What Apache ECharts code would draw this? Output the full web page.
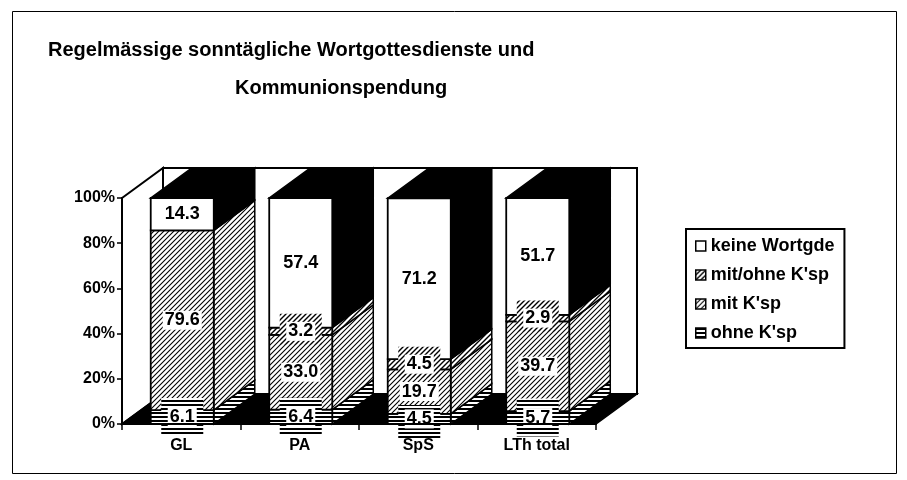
<!DOCTYPE html>
<html>
<head>
<meta charset="utf-8">
<script src="https://cdn.jsdelivr.net/npm/echarts@6/dist/echarts.min.js"></script>
<style>
html, body { margin: 0; padding: 0; background: #fff; }
#chart { width: 907px; height: 480px; }
</style>
</head>
<body>
<div id="chart"></div>
<script>
// Regular Sunday services of the word and communion, share per region (%)
const categories = ['GL', 'PA', 'SpS', 'LTh total'];
const ohneKsp = [6.1, 6.4, 4.5, 5.7];
const mitKsp = [79.6, 33.0, 19.7, 39.7];
const mitOhneKsp = [0, 3.2, 4.5, 2.9];
const keineWortgde = [14.3, 57.4, 71.2, 51.7];
const seriesNames = ["ohne K'sp", "mit K'sp", "mit/ohne K'sp", 'keine Wortgde'];
const legendOrder = ['keine Wortgde', "mit/ohne K'sp", "mit K'sp", "ohne K'sp"];
const titleLines = ['Regelmässige sonntägliche Wortgottesdienste und', 'Kommunionspendung'];

const FONT = "'Liberation Sans', Arial, Helvetica, sans-serif";
const DX = 41, DY = -30;          // oblique depth of the 3D box
const BAR_RATIO = 0.532;
const BAR_SHIFT = 1;

// fill patterns
function hatchCanvas(lineW) {
  const s = 5, c = document.createElement('canvas');
  c.width = s; c.height = s;
  const g = c.getContext('2d');
  g.fillStyle = '#fff'; g.fillRect(0, 0, s, s);
  g.strokeStyle = '#000'; g.lineWidth = lineW;
  g.beginPath();
  g.moveTo(-1, s + 1); g.lineTo(s + 1, -1);
  g.moveTo(-1, 1); g.lineTo(1, -1);
  g.moveTo(s - 1, s + 1); g.lineTo(s + 1, s - 1);
  g.stroke();
  return c;
}
function stripeCanvas() {
  const c = document.createElement('canvas');
  c.width = 4; c.height = 4;
  const g = c.getContext('2d');
  g.fillStyle = '#fff'; g.fillRect(0, 0, 4, 4);
  g.fillStyle = '#000'; g.fillRect(0, 0, 4, 2);
  return c;
}
const stripes = { image: stripeCanvas(), repeat: 'repeat' };
const hatch = { image: hatchCanvas(1.1), repeat: 'repeat' };
const hatch2 = { image: hatchCanvas(1.4), repeat: 'repeat' };

const valuesBySeries = [ohneKsp, mitKsp, mitOhneKsp, keineWortgde];
const frontFills = [stripes, hatch, hatch2, '#fff'];
const sideFills = [stripes, hatch, hatch2, '#000'];
const labelBoxes = [{ w: 42, h: 38, dy: 0 }, { w: 42, h: 31, dy: -2 }, { w: 42, h: 31, dy: -2 }, null];

// stacked bases and which segment carries the top face
function buildData(si) {
  return categories.map((c, ci) => {
    let base = 0;
    for (let k = 0; k < si; k++) base += valuesBySeries[k][ci];
    const v = valuesBySeries[si][ci];
    let topIdx = -1;
    for (let k = 0; k < valuesBySeries.length; k++) if (valuesBySeries[k][ci] > 0) topIdx = k;
    return [ci, base, base + v, v, topIdx === si ? 1 : 0];
  });
}

function makeRender(si) {
  return function (params, api) {
    const cat = api.value(0), base = api.value(1), top = api.value(2), val = api.value(3), isTop = api.value(4);
    if (!(val > 0)) return null;
    const pb = api.coord([cat, base]);
    const pt = api.coord([cat, top]);
    const w = api.size([1, 0])[0] * BAR_RATIO;
    const xl = pb[0] - w / 2 + BAR_SHIFT, xr = xl + w;
    const yb = pb[1], yt = pt[1];
    const children = [];
    children.push({
      type: 'polygon',
      shape: { points: [[xr, yb], [xr + DX, yb + DY], [xr + DX, yt + DY], [xr, yt]] },
      style: { fill: sideFills[si], stroke: '#000', lineWidth: 1.5 }
    });
    if (isTop) {
      children.push({
        type: 'polygon',
        shape: { points: [[xl, yt], [xr, yt], [xr + DX, yt + DY], [xl + DX, yt + DY]] },
        style: { fill: '#000', stroke: '#000', lineWidth: 1.5 }
      });
    }
    children.push({
      type: 'rect',
      shape: { x: xl, y: yt, width: w, height: yb - yt },
      style: { fill: frontFills[si], stroke: '#000', lineWidth: 1.8 }
    });
    const cx = (xl + xr) / 2, cy = (yb + yt) / 2;
    const box = labelBoxes[si];
    if (box) {
      children.push({
        type: 'rect', z2: 50,
        shape: { x: cx - box.w / 2, y: cy + box.dy - box.h / 2, width: box.w, height: box.h },
        style: { fill: frontFills[si] }
      });
    }
    children.push({
      type: 'text', z2: 51, x: cx, y: cy,
      style: {
        text: val.toFixed(1), font: 'bold 18px ' + FONT, fill: '#000',
        align: 'center', verticalAlign: 'middle',
        backgroundColor: '#fff', padding: [1, 2, 0, 2]
      }
    });
    return { type: 'group', children };
  };
}

function renderWalls(params, api) {
  const cs = params.coordSys;
  const x0 = cs.x, y0 = cs.y, x1 = cs.x + cs.width, y1 = cs.y + cs.height;
  return {
    type: 'group',
    children: [
      { type: 'polygon', shape: { points: [[x0, y0], [x0 + DX, y0 + DY], [x0 + DX, y1 + DY], [x0, y1]] },
        style: { fill: '#fff', stroke: '#000', lineWidth: 2 } },
      { type: 'rect', shape: { x: x0 + DX, y: y0 + DY, width: x1 - x0, height: y1 - y0 },
        style: { fill: '#fff', stroke: '#000', lineWidth: 2 } },
      { type: 'polygon', shape: { points: [[x0, y1], [x1, y1], [x1 + DX, y1 + DY], [x0 + DX, y1 + DY]] },
        style: { fill: '#000', stroke: '#000', lineWidth: 1.5 } }
    ]
  };
}

const series = [{
  type: 'custom', name: 'walls', z: 1, silent: true,
  data: [[0, 0]], encode: { x: 0, y: 1 },
  renderItem: renderWalls
}];
seriesNames.forEach((name, si) => {
  series.push({
    type: 'custom', name, z: 2,
    itemStyle: { color: frontFills[si], borderColor: '#000', borderWidth: 1.5 },
    data: buildData(si),
    encode: { x: 0, y: [1, 2] },
    renderItem: makeRender(si)
  });
});

const chart = echarts.init(document.getElementById('chart'), null, { renderer: 'canvas' });
chart.setOption({
  animation: false,
  backgroundColor: '#fff',
  title: [
    { text: titleLines[0], left: 48, top: 40, padding: 0,
      textStyle: { fontFamily: FONT, fontWeight: 'bold', fontSize: 20, color: '#000' } },
    { text: titleLines[1], left: 235, top: 78, padding: 0,
      textStyle: { fontFamily: FONT, fontWeight: 'bold', fontSize: 20, color: '#000' } }
  ],
  graphic: [{
    type: 'rect', left: 10, top: 9, z: -1,
    shape: { width: 884, height: 462 },
    style: { fill: 'none', stroke: '#000', lineWidth: 1 }
  }],
  legend: {
    orient: 'vertical', left: 686, top: 229,
    data: legendOrder.map(n => ({ name: n, itemStyle: { color: frontFills[seriesNames.indexOf(n)] } })),
    icon: 'rect', itemWidth: 10, itemHeight: 10, itemGap: 11,
    padding: [8, 10, 6, 9],
    borderColor: '#000', borderWidth: 2,
    selectedMode: false,
    itemStyle: { borderColor: '#000', borderWidth: 1.5 },
    textStyle: { fontFamily: FONT, fontWeight: 'bold', fontSize: 18, color: '#000', lineHeight: 18 }
  },
  grid: { left: 122, top: 198, width: 474, height: 226, containLabel: false },
  xAxis: {
    type: 'category', data: categories, z: 3,
    axisLine: { lineStyle: { color: '#000', width: 2 } },
    axisTick: { show: true, length: 6, lineStyle: { color: '#000', width: 1.5 } },
    axisLabel: { margin: 14, color: '#000', fontFamily: FONT, fontWeight: 'bold', fontSize: 16 },
    splitLine: { show: false }
  },
  yAxis: {
    type: 'value', min: 0, max: 100, interval: 20,
    axisLine: { show: true, lineStyle: { color: '#000', width: 2 } },
    axisTick: { show: true, length: 5, lineStyle: { color: '#000', width: 1.5 } },
    axisLabel: { margin: 7, formatter: '{value}%', color: '#000', fontFamily: FONT, fontWeight: 'bold', fontSize: 16 },
    splitLine: { show: false }
  },
  series
});
</script>
</body>
</html>
